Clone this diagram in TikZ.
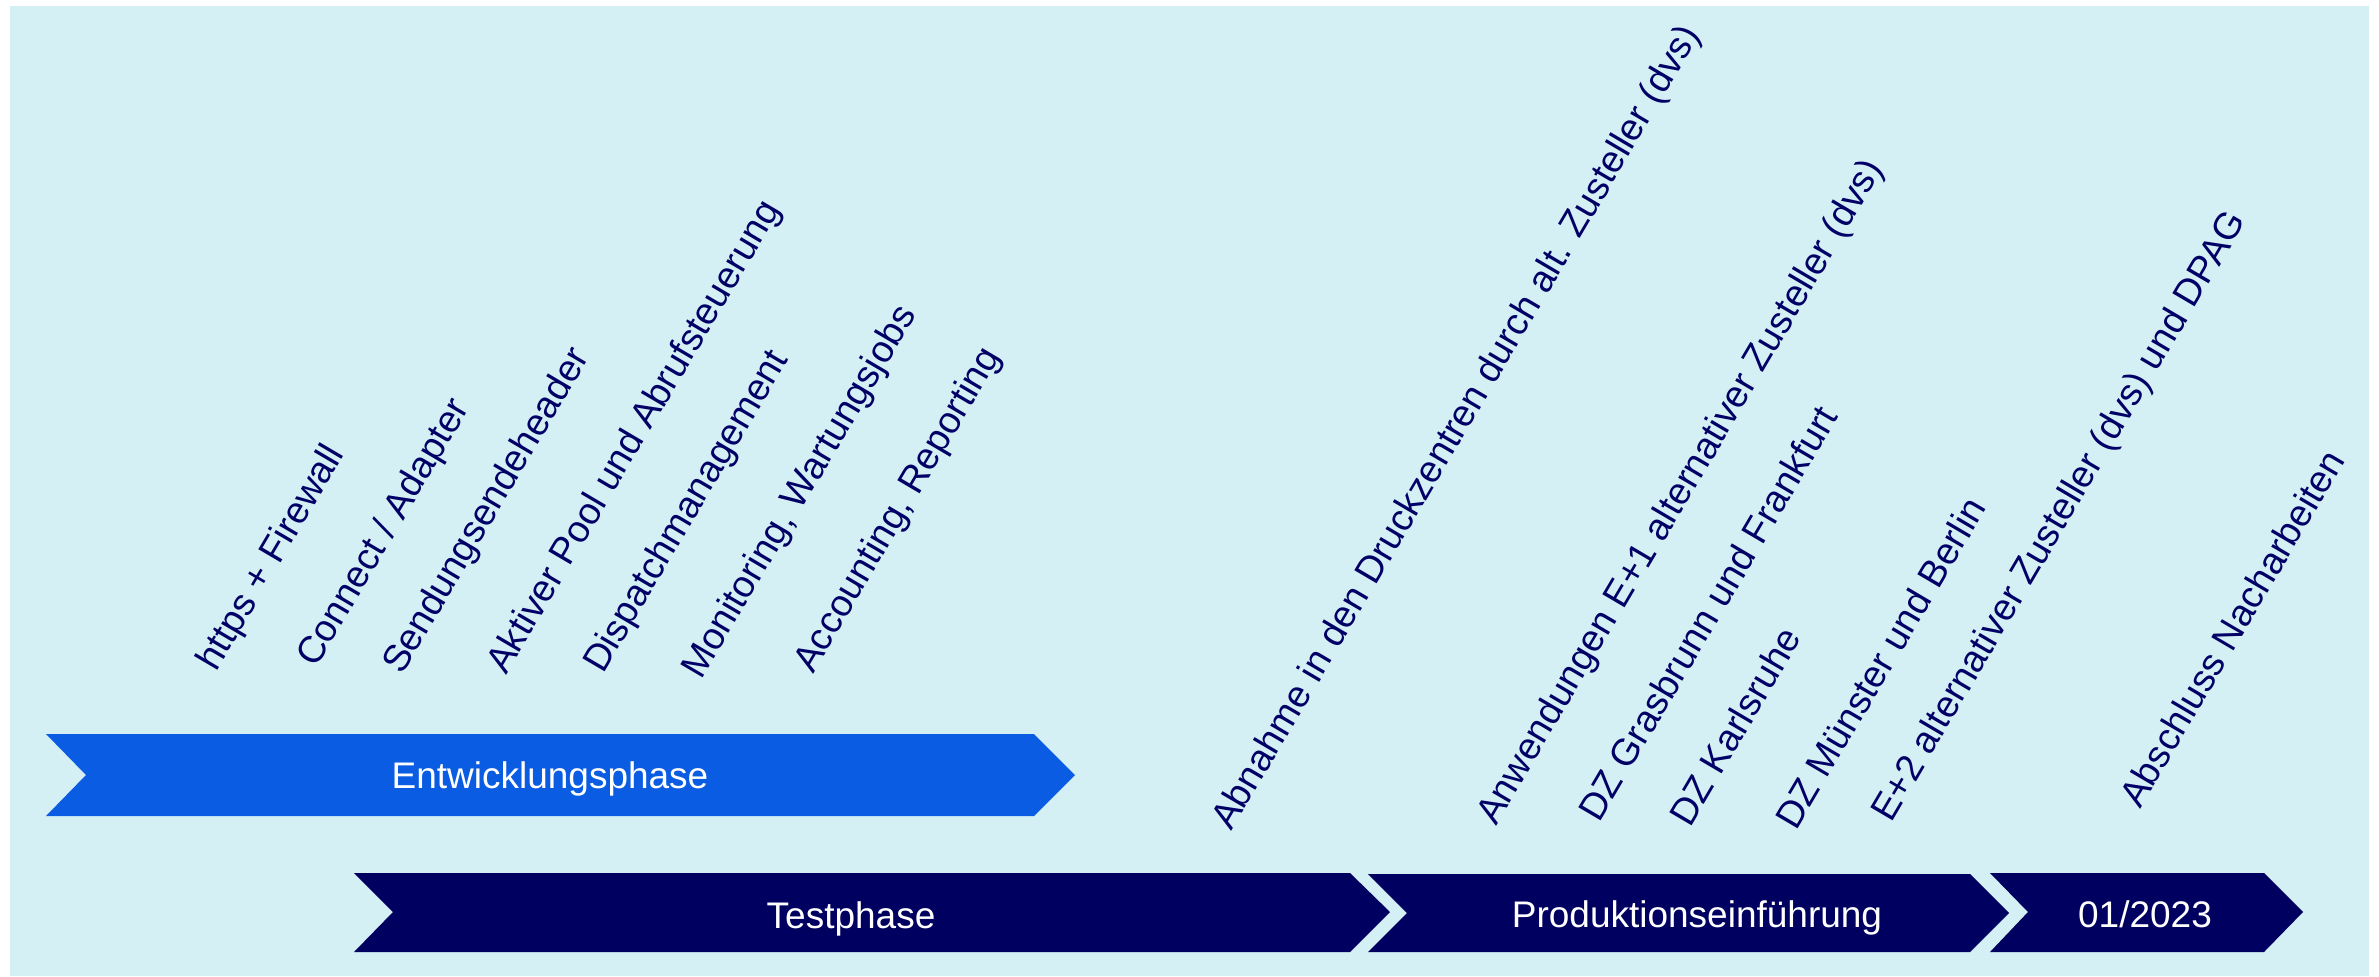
\documentclass[tikz,border=0pt]{standalone}
\usepackage{fontspec}
\setmainfont{Liberation Sans}
\usepackage{tikz}
\usepackage{xcolor}
\usetikzlibrary{arrows.meta}

\definecolor{hintergrund}{HTML}{D4F0F5}
\definecolor{hellblau}{HTML}{0A5CE2}
\definecolor{dunkelblau}{HTML}{000060}
\definecolor{schrift}{HTML}{000066}

\begin{document}
\begin{tikzpicture}[x=0.5pt,y=-0.5pt,
        schritt/.style={rotate=59.5, anchor=base west, inner sep=0pt, text=schrift, font=\fontsize{18.8}{22}\selectfont},
        phase/.style={anchor=base, inner sep=0pt, text=white, font=\fontsize{18.5}{22}\selectfont}]
                \useasboundingbox (0,0) rectangle (2379,976);
                \fill[hintergrund] (10,6) rectangle (2369,976);
                % Phasen
                \fill[hellblau] (46,734) -- (1034,734) -- (1075,775) -- (1034,816) -- (46,816) -- (86,775) -- cycle;
                \fill[dunkelblau] (354,873) -- (1350,873) -- (1390,912) -- (1350,952) -- (354,952) -- (393,912) -- cycle;
                \fill[dunkelblau] (1368,874) -- (1970,874) -- (2009,913) -- (1970,952) -- (1368,952) -- (1407,913) -- cycle;
                \fill[dunkelblau] (1990,873) -- (2264,873) -- (2303,912) -- (2264,952) -- (1990,952) -- (2028,912) -- cycle;
                \node[phase] (entw) at (550,788) {Entwicklungsphase};
                \node[phase] (test) at (851,928) {Testphase};
                \node[phase] (prod) at (1697,927) {Produktionseinführung};
                \node[phase] (ende) at (2145,927) {01/2023};
                % Schritte
                \node[schritt] (https) at (216,673) {https + Firewall};
                \node[schritt] (connect) at (316,669) {Connect / Adapter};
                \node[schritt] (header) at (402,676) {Sendungsendeheader};
                \node[schritt] (pool) at (506,676) {Aktiver Pool und Abrufsteuerung};
                \node[schritt] (dispatch) at (603,675) {Dispatchmanagement};
                \node[schritt] (monitoring) at (701,681) {Monitoring, Wartungsjobs};
                \node[schritt] (accounting) at (813,675) {Accounting, Reporting};
                \node[schritt] (abnahme) at (1231,832) {Abnahme in den Druckzentren durch alt. Zusteller (dvs)};
                \node[schritt] (anwendungen) at (1496,827) {Anwendungen E+1 alternativer Zusteller (dvs)};
                \node[schritt] (grasbrunn) at (1599,824) {DZ Grasbrunn und Frankfurt};
                \node[schritt] (karlsruhe) at (1690,829) {DZ Karlsruhe};
                \node[schritt] (muenster) at (1796,832) {DZ Münster und Berlin};
                \node[schritt] (eplus) at (1891,824) {E+2 alternativer Zusteller (dvs) und DPAG};
                \node[schritt] (abschluss) at (2140,810) {Abschluss Nacharbeiten};
\end{tikzpicture}
\end{document}
